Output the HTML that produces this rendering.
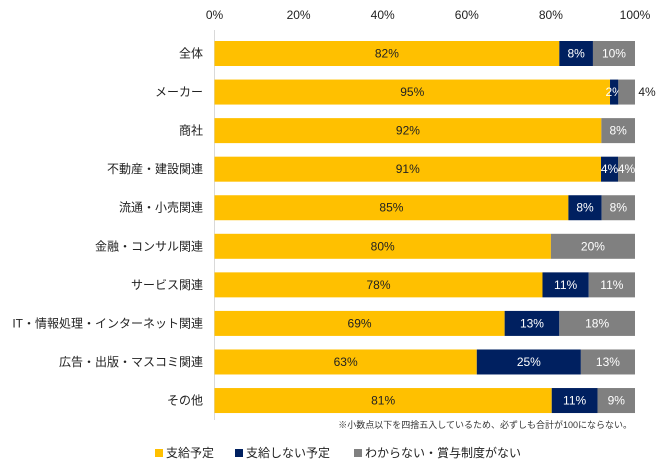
<!DOCTYPE html>
<html><head><meta charset="utf-8"><style>
body{margin:0;background:#fff;font-family:"Liberation Sans","Noto Sans CJK JP",sans-serif;}
svg text{font-family:"Liberation Sans","Noto Sans CJK JP",sans-serif;}
</style></head><body>
<svg id="chart" width="667" height="468">
<line x1="214.5" y1="30" x2="214.5" y2="420" stroke="#d9d9d9"/>
<g id="ticks"></g><g id="bars"></g>
<text x="632" y="428" font-size="9" text-anchor="end" fill="#333">※小数点以下を四捨五入しているため、必ずしも合計が100にならない。</text>
<g>
<rect x="155" y="449" width="8" height="8" fill="#FFC000"/>
<text x="166" y="457" font-size="12" fill="#222">支給予定</text>
<rect x="235" y="449" width="8" height="8" fill="#002060"/>
<text x="246" y="457" font-size="12" fill="#222">支給しない予定</text>
<rect x="354" y="449" width="8" height="8" fill="#808080"/>
<text x="365" y="457" font-size="12" fill="#222">わからない・賞与制度がない</text>
</g>
</svg>
<script>
const categories=["全体","メーカー","商社","不動産・建設関連","流通・小売関連","金融・コンサル関連","サービス関連","IT・情報処理・インターネット関連","広告・出版・マスコミ関連","その他"];
const payValues=[82,95,92,91,85,80,78,69,63,81];
const noPayValues=[8,2,0,4,8,0,11,13,25,11];
const unknownValues=[10,4,8,4,8,20,11,18,13,9];
const tickLabels=["0%","20%","40%","60%","80%","100%"];
const tickValues=[0,20,40,60,80,100];
const NS="http://www.w3.org/2000/svg";
const x0=214.5,x1=635;
const xs=v=>x0+(x1-x0)*v/100;
const rowY=i=>41+i*38.56;
const bh=25;
const tg=document.getElementById('ticks'),bg=document.getElementById('bars');
tickValues.forEach((v,i)=>{
 const t=document.createElementNS(NS,'text');
 t.setAttribute('x',xs(v));t.setAttribute('y',19);t.setAttribute('font-size','12');
 t.setAttribute('text-anchor','middle');t.setAttribute('fill','#222');
 
 
 t.textContent=tickLabels[i];tg.appendChild(t);
});
const cols=["#FFC000","#002060","#808080"],txt=["#222","#fff","#fff"],nm=["pay","nopay","unknown"];
categories.forEach((c,i)=>{
 const y=rowY(i);
 const l=document.createElementNS(NS,'text');
 l.setAttribute('x',203);l.setAttribute('y',y+bh/2+4);l.setAttribute('font-size','12');
 l.setAttribute('text-anchor','end');l.setAttribute('fill','#222');
 
 
 l.textContent=c;bg.appendChild(l);
 const vals=[payValues[i],noPayValues[i],unknownValues[i]];
 const sum=vals[0]+vals[1]+vals[2];
 let acc=0;
 vals.forEach((v,k)=>{
  if(v<=0)return;
  const a=xs(acc/sum*100),b=xs((acc+v)/sum*100);acc+=v;
  const r=document.createElementNS(NS,'rect');
  r.setAttribute('x',a);r.setAttribute('y',y);r.setAttribute('width',b-a);r.setAttribute('height',bh);
  r.setAttribute('fill',cols[k]);
  
  
  bg.appendChild(r);
  const t=document.createElementNS(NS,'text');
  let tx=(a+b)/2,fill=txt[k];
  if(b-a<16.8&&k===2){tx=b+12;fill='#222';}
  t.setAttribute('x',tx);t.setAttribute('y',y+bh/2+4);t.setAttribute('font-size','12');
  t.setAttribute('text-anchor','middle');t.setAttribute('fill',fill);
  
  
  t.textContent=v+'%';bg.appendChild(t);
 });
});
</script>
</body></html>
